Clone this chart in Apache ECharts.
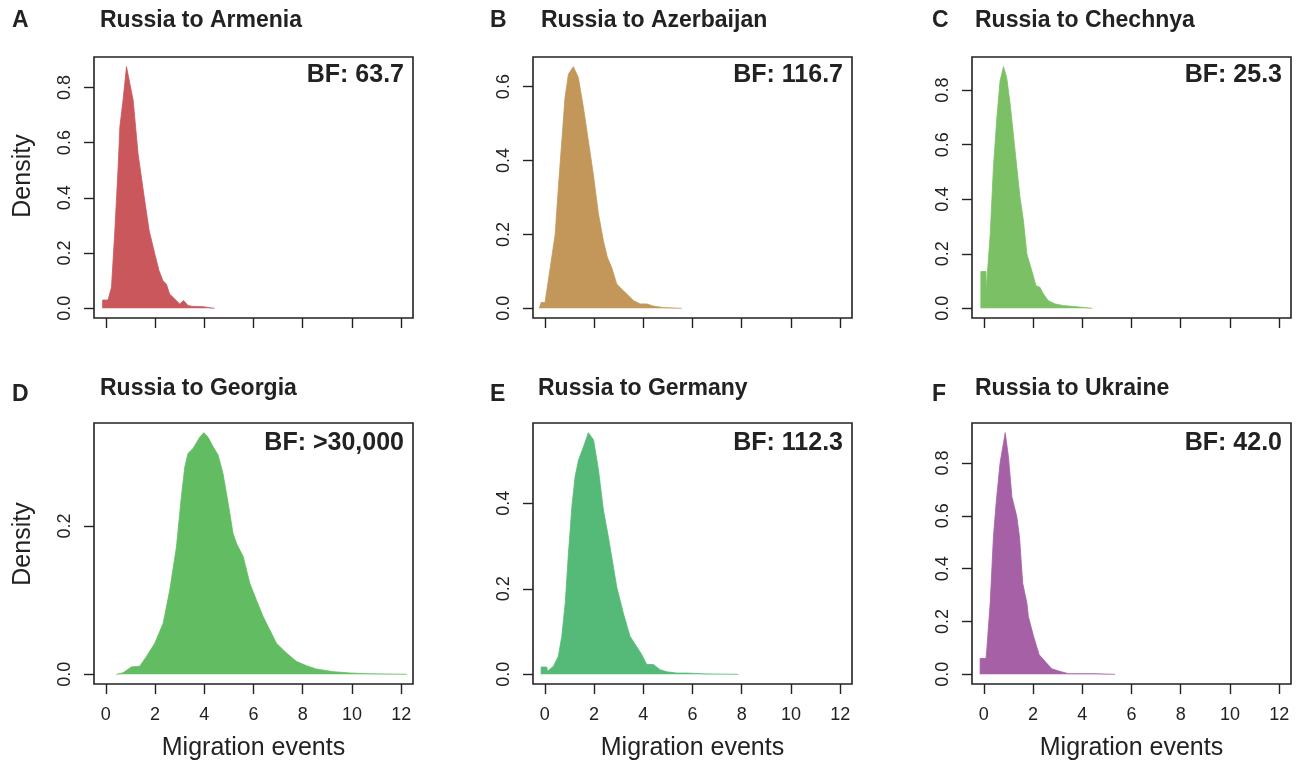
<!DOCTYPE html>
<html>
<head>
<meta charset="utf-8">
<script src="https://cdn.jsdelivr.net/npm/echarts@6/dist/echarts.min.js"></script>
<style>
  html, body { margin: 0; padding: 0; background: #fff; }
  #chart { width: 1299px; height: 763px; }
</style>
</head>
<body>
<div id="chart"></div>
<script>
// panel labels, titles and Bayes factors
const letters = ['A', 'B', 'C', 'D', 'E', 'F'];
const titles = ['Russia to Armenia', 'Russia to Azerbaijan', 'Russia to Chechnya',
                'Russia to Georgia', 'Russia to Germany', 'Russia to Ukraine'];
const bfLabels = ['BF: 63.7', 'BF: 116.7', 'BF: 25.3', 'BF: >30,000', 'BF: 112.3', 'BF: 42.0'];
const colors = ['#c9575b', '#c3975a', '#7bc065', '#62bc61', '#55b978', '#a560a6'];

const xTicks = [0, 2, 4, 6, 8, 10, 12];
const yTicksA = [0, 0.2, 0.4, 0.6, 0.8];
const yTicksB = [0, 0.2, 0.4, 0.6];
const yTicksC = [0, 0.2, 0.4, 0.6, 0.8];
const yTicksD = [0, 0.2];
const yTicksE = [0, 0.2, 0.4];
const yTicksF = [0, 0.2, 0.4, 0.6, 0.8];

// density curves (migration events, density)
const xA = [-0.13, -0.13, 0.09, 0.23, 0.36, 0.50, 0.57, 0.70, 0.84, 0.92, 1.11, 1.31, 1.54, 1.76, 1.99, 2.16, 2.32, 2.46, 2.59, 2.73, 3.00, 3.16, 3.34, 3.54, 3.95, 4.42];
const yA = [0, 0.030, 0.030, 0.076, 0.27, 0.51, 0.657, 0.754, 0.875, 0.872, 0.754, 0.56, 0.415, 0.282, 0.197, 0.137, 0.10, 0.088, 0.052, 0.040, 0.016, 0.028, 0.010, 0.007, 0.006, 0];

const xB = [-0.22, -0.15, -0.15, 0.01, 0.08, 0.22, 0.42, 0.55, 0.69, 0.82, 0.96, 1.16, 1.36, 1.57, 1.77, 1.97, 2.18, 2.38, 2.54, 2.72, 2.92, 3.12, 3.33, 3.60, 3.87, 4.14, 4.41, 4.81, 5.56];
const yB = [0, 0, 0.016, 0.016, 0.048, 0.11, 0.20, 0.327, 0.453, 0.57, 0.634, 0.654, 0.625, 0.543, 0.453, 0.363, 0.255, 0.183, 0.138, 0.11, 0.066, 0.052, 0.039, 0.021, 0.012, 0.012, 0.006, 0.002, 0];

const xC = [-0.12, -0.12, 0.09, 0.09, 0.26, 0.39, 0.53, 0.66, 0.80, 0.93, 1.07, 1.27, 1.47, 1.61, 1.75, 1.95, 2.12, 2.28, 2.42, 2.62, 2.90, 3.23, 3.64, 3.98, 4.41];
const yC = [0, 0.135, 0.135, 0.06, 0.272, 0.516, 0.70, 0.834, 0.886, 0.846, 0.749, 0.578, 0.407, 0.321, 0.199, 0.138, 0.083, 0.077, 0.053, 0.028, 0.016, 0.010, 0.007, 0.004, 0];

const xD = [0.43, 0.70, 1.04, 1.38, 1.65, 1.99, 2.33, 2.60, 2.87, 3.07, 3.21, 3.34, 3.55, 3.82, 3.98, 4.15, 4.36, 4.56, 4.76, 4.97, 5.17, 5.33, 5.58, 5.85, 6.12, 6.39, 6.66, 6.93, 7.33, 7.74, 8.15, 8.55, 9.23, 9.91, 10.58, 12.23];
const yD = [0, 0.002, 0.010, 0.011, 0.024, 0.042, 0.069, 0.114, 0.172, 0.24, 0.28, 0.298, 0.305, 0.32, 0.326, 0.32, 0.307, 0.296, 0.271, 0.231, 0.19, 0.175, 0.159, 0.123, 0.10, 0.078, 0.06, 0.042, 0.029, 0.0175, 0.0117, 0.0072, 0.0036, 0.0018, 0.0009, 0];

const xE = [-0.15, -0.15, 0.08, 0.11, 0.35, 0.55, 0.69, 0.83, 0.96, 1.10, 1.23, 1.37, 1.57, 1.77, 1.98, 2.18, 2.38, 2.58, 2.76, 2.92, 3.19, 3.46, 3.73, 3.94, 4.14, 4.41, 4.68, 4.95, 5.36, 5.76, 6.58, 7.86];
const yE = [0, 0.017, 0.017, 0.007, 0.019, 0.042, 0.089, 0.167, 0.283, 0.392, 0.462, 0.501, 0.532, 0.565, 0.548, 0.478, 0.384, 0.322, 0.26, 0.205, 0.143, 0.089, 0.065, 0.046, 0.023, 0.023, 0.011, 0.006, 0.003, 0.003, 0.001, 0];

const xF = [-0.15, -0.15, 0.09, 0.12, 0.26, 0.39, 0.50, 0.66, 0.87, 1.00, 1.14, 1.34, 1.45, 1.58, 1.75, 1.81, 2.02, 2.25, 2.49, 2.76, 3.10, 3.44, 4.45, 5.33];
const yF = [0, 0.06, 0.06, 0.093, 0.27, 0.52, 0.648, 0.80, 0.915, 0.824, 0.673, 0.597, 0.52, 0.345, 0.27, 0.219, 0.144, 0.074, 0.049, 0.021, 0.011, 0.0025, 0.0025, 0];

const xs = [xA, xB, xC, xD, xE, xF];
const ys = [yA, yB, yC, yD, yE, yF];
const yTicks = [yTicksA, yTicksB, yTicksC, yTicksD, yTicksE, yTicksF];

// layout of the 3x2 panels
const colLeft = [94, 533, 972];
const rowTop = [57, 423];
const boxW = 319, boxH = 261;
const titleX = [100, 541, 975, 100, 538, 975];
const letterX = [12, 490, 932];

const ink = '#222';
const font = 'Liberation Sans, Arial, Helvetica, sans-serif';

const chart = echarts.init(document.getElementById('chart'));

const grids = [], xAxes = [], yAxes = [], series = [], graphics = [];
for (let i = 0; i < 6; i++) {
  const col = i % 3, row = Math.floor(i / 3);
  const bottom = row === 1;
  const peak = Math.max(...ys[i]);
  grids.push({
    left: colLeft[col], top: rowTop[row], width: boxW, height: boxH,
    show: true, borderColor: ink, borderWidth: 1.6, backgroundColor: 'transparent'
  });
  xAxes.push({
    gridIndex: i, type: 'value', min: -0.48, max: 12.48,
    axisLine: { show: false, onZero: false }, splitLine: { show: false },
    axisTick: { show: true, customValues: xTicks, length: 10, lineStyle: { color: ink, width: 1.4 } },
    axisLabel: { show: bottom, customValues: xTicks, margin: 22, fontSize: 18, color: ink, fontFamily: font },
    name: bottom ? 'Migration events' : '', nameLocation: 'middle', nameGap: 52,
    nameTextStyle: { fontSize: 25, color: ink, fontFamily: font }
  });
  yAxes.push({
    gridIndex: i, type: 'value', min: -0.04 * peak, max: 1.04 * peak,
    axisLine: { show: false, onZero: false }, splitLine: { show: false },
    axisTick: { show: true, customValues: yTicks[i], length: 10, lineStyle: { color: ink, width: 1.4 } },
    axisLabel: { show: true, customValues: yTicks[i], rotate: 90, margin: 20, fontSize: 18, color: ink,
                 fontFamily: font, formatter: v => v.toFixed(1) }
  });
  series.push({
    type: 'line', xAxisIndex: i, yAxisIndex: i, symbol: 'none', silent: true,
    data: xs[i].map((x, k) => [x, ys[i][k]]),
    lineStyle: { color: colors[i], width: 0.8 },
    areaStyle: { color: colors[i], opacity: 1 }
  });

  const letterY = bottom ? 395 : 21;
  const titleY = bottom ? 389 : 21;
  graphics.push({ type: 'text', x: letterX[col], y: letterY,
    style: { text: letters[i], fill: ink, font: 'bold 23px ' + font, textVerticalAlign: 'middle' } });
  graphics.push({ type: 'text', x: titleX[i], y: titleY,
    style: { text: titles[i], fill: ink, font: 'bold 23px ' + font, textVerticalAlign: 'middle' } });
  graphics.push({ type: 'text', x: colLeft[col] + boxW - 9, y: rowTop[row] + (bottom ? 20 : 18),
    style: { text: bfLabels[i], fill: ink, font: 'bold 25px ' + font, textAlign: 'right', textVerticalAlign: 'middle' } });
}
// y axis titles on the left column
[176, 544].forEach(y => graphics.push({ type: 'text', x: 23, y: y, rotation: Math.PI / 2,
  style: { text: 'Density', fill: ink, font: '25px ' + font, textAlign: 'center', textVerticalAlign: 'middle' } }));

chart.setOption({
  animation: false,
  grid: grids, xAxis: xAxes, yAxis: yAxes, series: series, graphic: graphics
});
</script>
</body>
</html>
